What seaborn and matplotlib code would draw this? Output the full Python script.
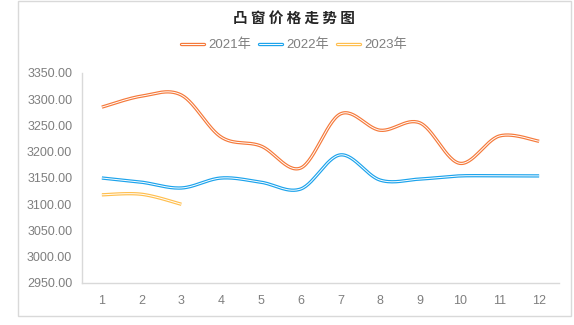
import numpy as np
import pandas as pd
import matplotlib
matplotlib.use("Agg")
import matplotlib.pyplot as plt
import seaborn as sns
from matplotlib.lines import Line2D
from matplotlib.patches import Rectangle
from matplotlib.legend_handler import HandlerTuple

months = [1, 2, 3, 4, 5, 6, 7, 8, 9, 10, 11, 12]
y2021 = [3285, 3306, 3308, 3228, 3211, 3169, 3272, 3241, 3255, 3178, 3230, 3220]
y2022 = [3150, 3142, 3131, 3150, 3142, 3129, 3194, 3146, 3148, 3154, 3154, 3154]
y2023 = [3118, 3119, 3100]
series_names = ["2021年", "2022年", "2023年"]
series_values = [y2021, y2022, y2023]
colors = ["#F5793A", "#1CA3EC", "#FFBF4F"]
yticks = [2950, 3000, 3050, 3100, 3150, 3200, 3250, 3300, 3350]

sns.set_theme(style="white")
plt.rcParams["font.family"] = ["Liberation Sans", "Noto Sans CJK SC", "DejaVu Sans"]


def smooth(xs, ys, n=30):
    """Catmull-Rom curve through the data points (Excel-style smoothed line)."""
    xs = np.asarray(xs, float)
    ys = np.asarray(ys, float)
    P = np.column_stack([xs, ys])
    P = np.vstack([P[0], P, P[-1]])
    out = []
    for i in range(1, len(P) - 2):
        p0, p1, p2, p3 = P[i - 1], P[i], P[i + 1], P[i + 2]
        c1 = p1 + (p2 - p0) / 6.0
        c2 = p2 - (p3 - p1) / 6.0
        t = np.linspace(0, 1, n, endpoint=(i == len(P) - 3))[:, None]
        b = ((1 - t) ** 3) * p1 + 3 * ((1 - t) ** 2) * t * c1 + 3 * (1 - t) * t ** 2 * c2 + t ** 3 * p2
        out.append(b)
    out = np.vstack(out)
    return out[:, 0], out[:, 1]


fig = plt.figure(figsize=(5.74, 3.25), dpi=100)
ax = fig.add_axes([82 / 574, 42 / 325, 477 / 574, 210 / 325])

handles = []
for name, vals, c in zip(series_names, series_values, colors):
    sx, sy = smooth(months[:len(vals)], vals)
    df = pd.DataFrame({"x": sx, "y": sy})
    sns.lineplot(data=df, x="x", y="y", ax=ax, sort=False, color=c, lw=2.4,
                 solid_capstyle="butt", zorder=2)
    sns.lineplot(data=df, x="x", y="y", ax=ax, sort=False, color="white", lw=0.7,
                 solid_capstyle="butt", zorder=3)
    handles.append((Line2D([], [], color=c, lw=2.4), Line2D([], [], color="white", lw=0.7)))

ax.set_xlim(0.5, 12.5)
ax.set_ylim(2950, 3350)
ax.set_xticks(months)
ax.set_xticklabels([str(m) for m in months])
ax.set_yticks(yticks)
ax.set_yticklabels([f"{v:.2f}" for v in yticks])
ax.set_xlabel("")
ax.set_ylabel("")
ax.tick_params(axis="both", length=0, labelsize=9, colors="#7f7f7f")
ax.tick_params(axis="y", pad=7)
ax.tick_params(axis="x", pad=9)
for s in ["top", "right"]:
    ax.spines[s].set_visible(False)
for s in ["left", "bottom"]:
    ax.spines[s].set_color("#d9d9d9")
    ax.spines[s].set_linewidth(1)
ax.grid(False)

fig.text(294 / 574, 1 - 18 / 325, "凸 窗 价 格 走 势 图", ha="center", va="center",
         fontsize=10.5, fontweight="bold", color="#262626",
         family=["Noto Sans CJK SC", "DejaVu Sans"])

leg = fig.legend(handles, series_names, handler_map={tuple: HandlerTuple(ndivide=1)},
                 loc="center", bbox_to_anchor=(294 / 574, 1 - 45 / 325), ncol=3,
                 frameon=False, handlelength=1.75, handletextpad=0.35,
                 columnspacing=0.55, labelcolor="#7f7f7f",
                 prop={"family": ["Liberation Sans", "Noto Sans CJK SC"], "size": 9.5})

fig.patches.append(Rectangle((18 / 574, 1 - 316 / 325), 553 / 574, 315.5 / 325,
                             transform=fig.transFigure, fill=False,
                             edgecolor="#d9d9d9", lw=1))

fig.savefig("out.png", dpi=100)
